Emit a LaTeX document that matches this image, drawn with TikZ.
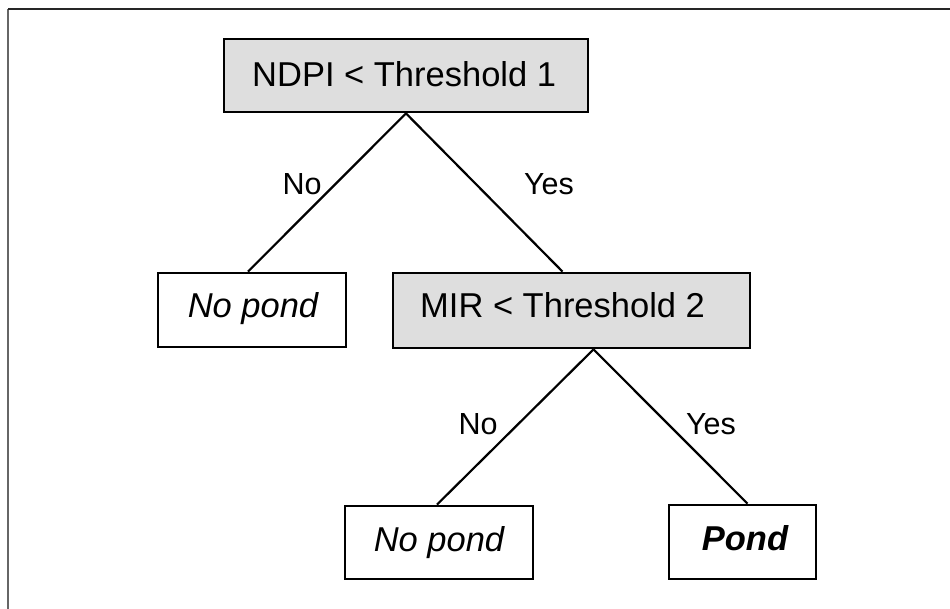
\documentclass[tikz,border=0pt]{standalone}
\usepackage{fontspec}
\setmainfont{Liberation Sans}
\begin{document}
\begin{tikzpicture}[x=1pt,y=-1pt,
  box/.style={draw=black, line width=2.8pt, rectangle, inner sep=0pt},
  testbox/.style={box, fill=boxgray},
  txt/.style={inner sep=0pt, font=\fontsize{34.5}{40}\selectfont},
  lab/.style={inner sep=0pt, anchor=base, font=\fontsize{30.5}{36}\selectfont},
  conn/.style={line width=2.2pt, black}]
\definecolor{boxgray}{HTML}{DEDEDE}
\useasboundingbox (0,0) rectangle (950,609);
% frame
\coordinate (f1) at (8,609);
\coordinate (f2) at (8,9);
\coordinate (f3) at (950,9);
\draw[line width=2pt, black!60] (f1) -- (f2);
\draw[line width=2pt, black!85] (f2) -- (f3);
% boxes
\node[testbox, minimum width=364pt, minimum height=73pt] (t) at (406,75.5) {};
\node[box, minimum width=188pt, minimum height=74pt] (n1) at (252,310) {};
\node[testbox, minimum width=357pt, minimum height=75pt] (m) at (571.5,310.5) {};
\node[box, minimum width=188pt, minimum height=73pt] (n2) at (439,542.5) {};
\node[box, minimum width=147pt, minimum height=74pt] (p) at (742.5,542) {};
% box texts
\node[txt, anchor=base west] (tt) at (252,87) {NDPI < Threshold 1};
\node[txt, anchor=base] (n1t) at (253,318) {\itshape No pond};
\node[txt, anchor=base west] (mt) at (420,318) {MIR < Threshold 2};
\node[txt, anchor=base] (n2t) at (439,551.5) {\itshape No pond};
\node[txt, anchor=base] (pt) at (745,550.5) {\bfseries\itshape Pond};
% connectors
\draw[conn] (t.south) -- ([xshift=-4pt]n1.north);
\draw[conn] (t.south) -- ([xshift=-9pt]m.north);
\draw[conn] ([xshift=22pt]m.south) -- ([xshift=-2pt]n2.north);
\draw[conn] ([xshift=22pt]m.south) -- ([xshift=5pt]p.north);
% labels
\node[lab] (l1) at (302,195) {No};
\node[lab] (l2) at (549,195) {Yes};
\node[lab] (l3) at (478,434) {No};
\node[lab] (l4) at (711,434) {Yes};
\end{tikzpicture}
\end{document}
